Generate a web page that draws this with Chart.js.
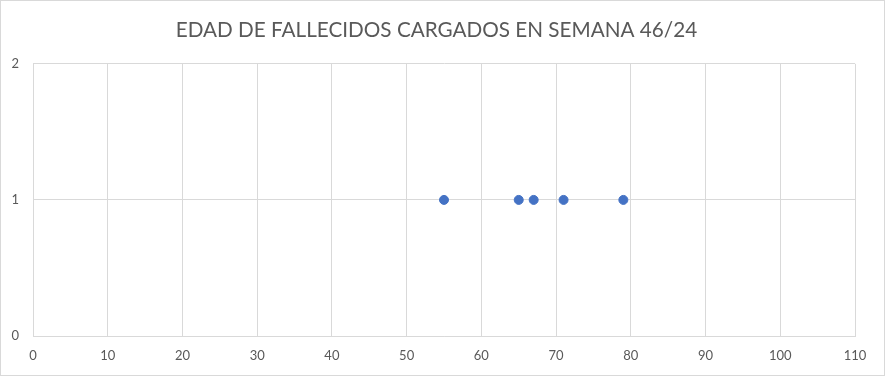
<!DOCTYPE html>
<html><head><meta charset="utf-8">
<script src="https://cdn.jsdelivr.net/npm/chart.js@4"></script>
<style>html,body{margin:0;padding:0;background:#fff;}#wrap{width:886px;height:377px;position:relative;}</style>
</head><body><div id="wrap"><canvas id="c"></canvas></div>
<script>
const titleText = "EDAD DE FALLECIDOS CARGADOS EN SEMANA 46/24";
const ages = [55, 65, 67, 71, 79];
const counts = [1, 1, 1, 1, 1];
const xTicks = [0,10,20,30,40,50,60,70,80,90,100,110];
const yTicks = [0,1,2];

const borderPlugin = {
  id: 'outerBorder',
  afterDraw(chart) {
    const ctx = chart.ctx;
    ctx.save();
    ctx.strokeStyle = '#d9d9d9';
    ctx.lineWidth = 1;
    ctx.strokeRect(0.5, 0.5, chart.width - 2, chart.height - 2);
    ctx.restore();
  }
};

new Chart(document.getElementById('c'), {
  type: 'scatter',
  data: {
    datasets: [{
      data: ages.map((a, i) => ({x: a, y: counts[i]})),
      backgroundColor: '#4472C4',
      borderColor: '#4472C4',
      pointRadius: 4.5,
      pointHoverRadius: 4.5
    }]
  },
  options: {
    responsive: true,
    maintainAspectRatio: false,
    animation: false,
    layout: { padding: { left: 0, right: 13, top: 0, bottom: 0 } },
    plugins: {
      legend: { display: false },
      tooltip: { enabled: false },
      title: {
        display: true,
        text: titleText,
        color: '#595959',
        font: { family: 'Lato', size: 20.7, weight: 'normal' },
        padding: { top: 18, bottom: 21 }
      }
    },
    scales: {
      x: {
        type: 'linear',
        min: 0, max: 110,
        afterBuildTicks(s) { s.ticks = xTicks.map(v => ({value: v})); },
        afterFit(s) { s.height = 41; },
        grid: { color: '#d9d9d9', drawTicks: false },
        border: { color: '#d9d9d9' },
        ticks: { color: '#595959', padding: 12, font: { family: 'Lato', size: 13 } }
      },
      y: {
        type: 'linear',
        min: 0, max: 2,
        afterBuildTicks(s) { s.ticks = yTicks.map(v => ({value: v})); },
        afterFit(s) { s.width = 33; },
        grid: { color: '#d9d9d9', drawTicks: false },
        border: { color: '#d9d9d9' },
        ticks: { color: '#595959', padding: 14, font: { family: 'Lato', size: 13 } }
      },
      yRightSpacer: {
        type: 'linear',
        position: 'right',
        display: true,
        afterFit(s) { s.width = 18; },
        grid: { display: false, drawTicks: false },
        border: { display: false },
        ticks: { display: false }
      }
    }
  },
  plugins: [borderPlugin]
});
</script></body></html>
